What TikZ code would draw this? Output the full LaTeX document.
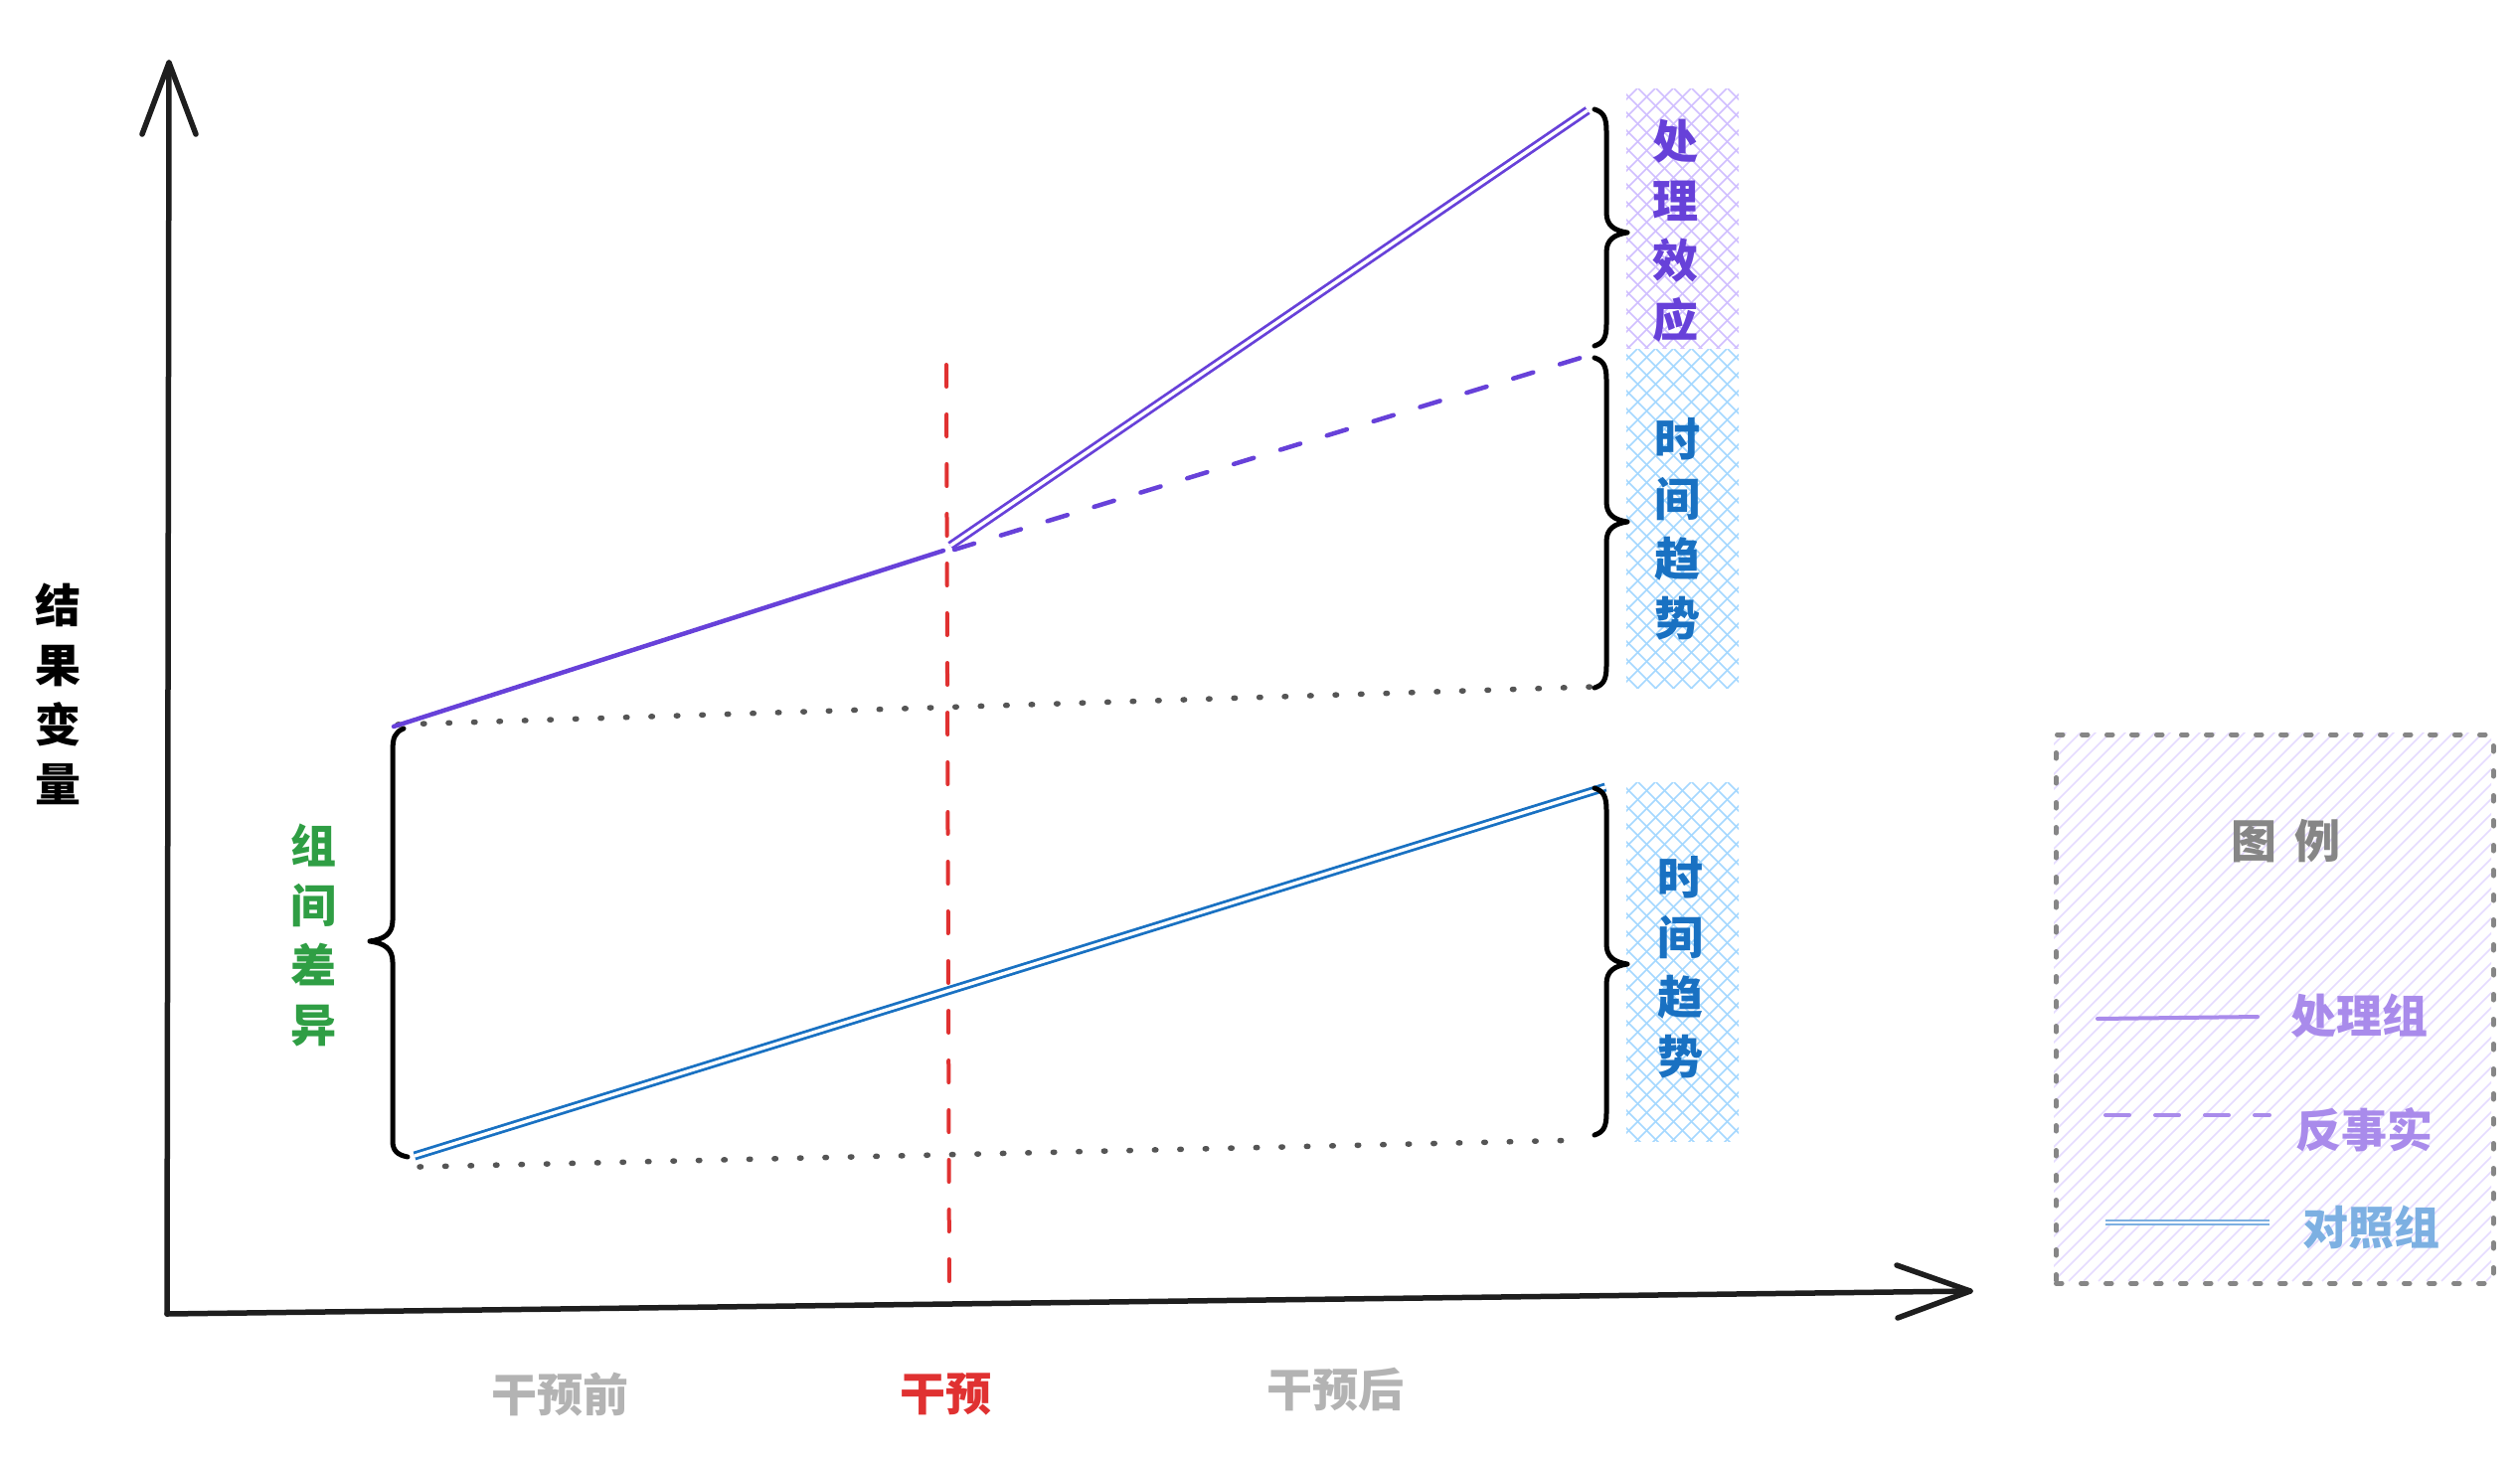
\documentclass[tikz,border=0pt]{standalone}
\usepackage{fontspec}
\setmainfont{Noto Sans CJK SC}
\usetikzlibrary{calc}
\definecolor{vio}{HTML}{6741D9}
\definecolor{blu}{HTML}{1971C2}
\definecolor{grn}{HTML}{2F9E44}
\definecolor{redc}{HTML}{E03131}
\definecolor{axisc}{HTML}{1E1E1E}
\definecolor{dotc}{HTML}{555555}
\definecolor{lgray}{HTML}{B3B3B3}
\definecolor{mgray}{HTML}{868686}
\definecolor{hatchv}{HTML}{D0BFFF}
\definecolor{hatchb}{HTML}{A5D8FF}
\definecolor{hatchl}{HTML}{E5DBFF}
\definecolor{lvio}{HTML}{A98BEB}
\definecolor{lblu}{HTML}{7DB0E2}
\newcommand\myxhatch[5]{%
  \begin{scope}
    \clip (#1,#2) rectangle (#3,#4);
    \foreach \i in {-420,-402,...,140} {
      \draw[#5,line width=1.6pt] (#1+\i,#2) -- ++(440,440);
      \draw[#5,line width=1.6pt] (#3-\i,#2) -- ++(-440,440);
    }
  \end{scope}}
\newcommand\myrbrace[3]{%
  \draw[bracestyle] (1604,#1) .. controls (1613,#1+3) and (1616,#1+8) .. (1616,#1+22)
    -- (1616,#2-20) .. controls (1616,#2-7) and (1624,#2-2) .. (1637,#2)
    .. controls (1624,#2+2) and (1616,#2+7) .. (1616,#2+20)
    -- (1616,#3-22) .. controls (1616,#3-8) and (1613,#3-3) .. (1604,#3);}
\begin{document}
\begin{tikzpicture}[x=1pt,y=-1pt,
  axisline/.style={draw=axisc, line width=5.5pt, line cap=round, line join=round},
  treat/.style={draw=vio, line width=4.5pt, line cap=round},
  treatdbl/.style={draw=vio, line width=2.8pt, double=white, double distance=3.4pt},
  ctrl/.style={draw=blu, line width=2.8pt, double=white, double distance=3.4pt},
  cfact/.style={draw=vio, line width=4.5pt, line cap=round, dash pattern=on 21pt off 28pt},
  dotline/.style={draw=dotc, line width=5.5pt, line cap=round, dash pattern=on 1.5pt off 24pt},
  interv/.style={draw=redc, line width=4pt, line cap=round, dash pattern=on 22pt off 28pt},
  bracestyle/.style={draw=black, line width=5pt, line cap=round, line join=round},
  vtext/.style={align=center, inner sep=0pt, font=\fontsize{46}{60}\selectfont\bfseries},
  ltext/.style={inner sep=0pt, font=\fontsize{46}{56}\selectfont\bfseries},
  legbox/.style={draw=mgray, line width=4.5pt, dash pattern=on 6pt off 19pt, line cap=round, inner sep=0pt},
  legline/.style={line width=4pt, line cap=round}
]
\useasboundingbox (0,0) rectangle (2535,1470);

% hatched label boxes
\myxhatch{1636}{89}{1749}{350}{hatchv}
\myxhatch{1636}{351}{1749}{692}{hatchb}
\myxhatch{1636}{787}{1749}{1148}{hatchb}

% legend background hatch
\begin{scope}
  \clip (2066,737) rectangle (2506,1289);
  \foreach \i in {-600,-585,...,460} \draw[hatchl, line width=1.5pt] (2066+\i,1289) -- ++(620,-620);
\end{scope}
\node[legbox, minimum width=440pt, minimum height=552pt, anchor=north west] (legend) at (2066,737) {};

% axes
\coordinate (O) at (168,1322);
\coordinate (ytip) at (170,63);
\coordinate (xtip) at (1982,1299);
\draw[axisline] (O) -- (ytip);
\draw[axisline] ($(ytip)+(-27,72)$) -- (ytip) -- ($(ytip)+(27,72)$);
\draw[axisline] (O) -- (xtip);
\draw[axisline] ($(xtip)+(-74,-26)$) -- (xtip) -- ($(xtip)+(-73,27)$);

% data points
\coordinate (T0) at (396,731);
\coordinate (T1) at (949,554);
\coordinate (T1b) at (956,549);
\coordinate (T2) at (1597,111);
\coordinate (CF0) at (960,553);
\coordinate (CF1) at (1600,357);
\coordinate (C0) at (417,1163);
\coordinate (C1) at (1615,792);
\coordinate (D0) at (400,729);
\coordinate (D1) at (1602,691);
\coordinate (E0) at (422,1174);
\coordinate (E1) at (1594,1147);
\coordinate (R0) at (952,367);
\coordinate (R1) at (955,1310);

% reference dotted lines
\draw[dotline] (D0) -- (D1);
\draw[dotline] (E0) -- (E1);

% groups
\draw[treat] (T0) -- (T1);
\draw[treatdbl] (T1b) -- (T2);
\draw[cfact] (CF0) -- (CF1);
\draw[ctrl] (C0) -- (C1);

% intervention
\draw[interv] (R0) -- (R1);

% braces
\draw[bracestyle] (406,733) .. controls (397,737) and (395,742) .. (395,756)
  -- (395,926) .. controls (395,940) and (386,945) .. (372,947)
  .. controls (386,949) and (395,954) .. (395,968)
  -- (395,1148) .. controls (395,1158) and (400,1162) .. (410,1164);
\myrbrace{110}{234}{348}
\myrbrace{360}{525}{692}
\myrbrace{793}{970}{1142}

% labels
\node[vtext, text=vio] (effect) at (1685,232) {处\\理\\效\\应};
\node[vtext, text=blu] (trend1) at (1687,532) {时\\间\\趋\\势};
\node[vtext, text=blu] (trend2) at (1690,973) {时\\间\\趋\\势};
\node[vtext, text=grn] (gap) at (315,941) {组\\间\\差\\异};
\node[vtext, text=black] (ylab) at (58,698) {结\\果\\变\\量};
\node[ltext, text=lgray] (pre) at (563,1403) {干预前};
\node[ltext, text=redc] (intv) at (951,1403) {干预};
\node[ltext, text=lgray] (post) at (1343,1398) {干预后};

% legend contents
\node[ltext, text=mgray] (legtitle) at (2299,846) {图\hspace{18pt}例};
\coordinate (L1a) at (2110,1025); \coordinate (L1b) at (2271,1023);
\coordinate (L2a) at (2118,1122); \coordinate (L2b) at (2283,1122);
\coordinate (L3a) at (2118,1230); \coordinate (L3b) at (2283,1230);
\draw[legline, draw=lvio] (L1a) -- (L1b);
\draw[legline, draw=lvio, dash pattern=on 24pt off 26pt] (L2a) -- (L2b);
\draw[draw=lblu, line width=2pt, double=white, double distance=2pt] (L3a) -- (L3b);
\node[ltext, text=lvio] (leg1) at (2373,1022) {处理组};
\node[ltext, text=lvio] (leg2) at (2378,1137) {反事实};
\node[ltext, text=lblu] (leg3) at (2385,1235) {对照组};
\end{tikzpicture}
\end{document}
